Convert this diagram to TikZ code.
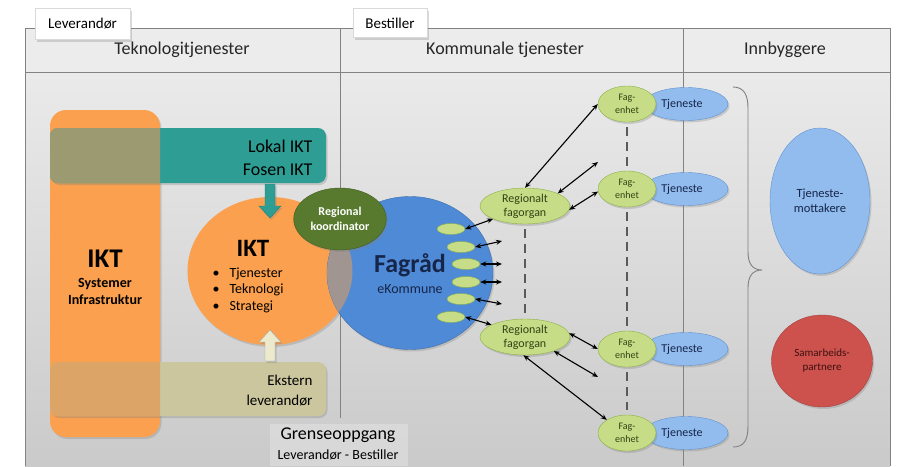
\documentclass[tikz,border=0pt]{standalone}
\usepackage{fontspec}
\setmainfont{Carlito}
\usetikzlibrary{shapes.geometric,arrows.meta,shadows}

\definecolor{headfill}{RGB}{236,236,236}
\definecolor{bgtop}{RGB}{234,234,234}
\definecolor{bgbottom}{RGB}{202,202,202}
\definecolor{framegray}{RGB}{130,130,130}
\definecolor{orangefill}{RGB}{251,160,78}
\definecolor{tealfill}{RGB}{46,158,148}
\definecolor{tealover}{RGB}{156,154,112}
\definecolor{beigefill}{RGB}{203,198,158}
\definecolor{beigeover}{RGB}{221,164,104}
\definecolor{beigearrow}{RGB}{236,233,205}
\definecolor{lensfill}{RGB}{160,149,144}
\definecolor{bluefill}{RGB}{79,138,214}
\definecolor{navytext}{RGB}{22,38,74}
\definecolor{greendark}{RGB}{88,122,46}
\definecolor{limefill}{RGB}{198,220,134}
\definecolor{limeline}{RGB}{140,176,70}
\definecolor{greentext}{RGB}{48,68,20}
\definecolor{lightblue}{RGB}{146,188,238}
\definecolor{lightblueline}{RGB}{96,146,208}
\definecolor{redfill}{RGB}{205,82,78}
\definecolor{redtext}{RGB}{60,16,16}
\definecolor{dashgray}{RGB}{90,90,90}

\begin{document}
\begin{tikzpicture}[x=1pt,y=-1pt,
    softshadow/.style={drop shadow={opacity=0.3,shadow xshift=1.5pt,shadow yshift=-2pt}},
    tab/.style={rectangle,fill=white,draw=gray!30,softshadow,inner sep=0pt,font=\fontsize{15}{17}\selectfont},
    head/.style={font=\fontsize{18}{20}\selectfont,text=black!85},
    smallov/.style={ellipse,fill=limefill,draw=limeline,minimum width=28pt,minimum height=11pt,inner sep=0pt},
    regfag/.style={ellipse,fill=limefill,draw=limeline,softshadow,minimum width=90pt,minimum height=36pt,inner sep=0pt,align=center,text=greentext,font=\fontsize{12}{14}\selectfont},
    fagenhet/.style={ellipse,fill=limefill,draw=limeline,softshadow,minimum width=58pt,minimum height=36pt,inner sep=0pt,align=center,text=greentext,font=\fontsize{10}{13}\selectfont},
    tjeneste/.style={ellipse,fill=lightblue,draw=lightblueline,softshadow,minimum width=84pt,minimum height=33pt,inner sep=0pt,text=navytext,font=\fontsize{12}{14}\selectfont},
    dblarrow/.style={<->,>={Stealth[length=6pt,width=5pt]},line width=1.1pt},
    dashline/.style={draw=dashgray,line width=1.5pt,dash pattern=on 9pt off 6pt,shorten <=5pt,shorten >=5pt}]

\useasboundingbox (0,0) rectangle (897,466);

% frame and columns
	\fill[headfill] (25,28) rectangle (890,72);
	\shade[top color=bgtop,bottom color=bgbottom] (25,72) rectangle (890,466);
	\draw[framegray] (25,466) -- (25,28) -- (890,28) -- (890,466);
	\draw[framegray] (25,72) -- (890,72);
	\draw[framegray] (340,28) -- (340,418);
	\draw[framegray] (683,28) -- (683,466);
	\fill[white,opacity=0.25] (270,424) rectangle (408,466);

	\node[tab,minimum width=95pt,minimum height=31pt] (levtab) at (82.5,24) {Leverandør};
	\node[tab,minimum width=74pt,minimum height=29pt] (bestab) at (390,23) {Bestiller};

	\node[head] (tekhead) at (182,50) {Teknologitjenester};
	\node[head] (komhead) at (505,50) {Kommunale tjenester};
	\node[head] (innhead) at (785,50) {Innbyggere};

% leverandor side
	\fill[orangefill,rounded corners=16pt,softshadow] (50,110) rectangle (160,437);
	\fill[tealfill,rounded corners=8pt,softshadow] (50,128) rectangle (326,183);
	\fill[beigefill,rounded corners=8pt,softshadow] (50,362) rectangle (326,416);
	\begin{scope}
		\clip[rounded corners=16pt] (50,110) rectangle (160,437);
		\fill[tealover,rounded corners=8pt] (50,128) rectangle (326,183);
		\fill[beigeover,rounded corners=8pt] (50,362) rectangle (326,416);
	\end{scope}

	\node[font=\bfseries\fontsize{27}{29}\selectfont] (iktbig) at (105,259) {IKT};
	\node[font=\bfseries\fontsize{14}{17}\selectfont,align=center] (systinfra) at (105,291) {Systemer\\Infrastruktur};
	\node[anchor=east,align=right,font=\fontsize{18}{23}\selectfont] (lokalikt) at (316,158) {Lokal IKT\\Fosen IKT};
	\node[anchor=east,align=right,font=\fontsize{15}{20}\selectfont] (ekstern) at (316,391) {Ekstern\\leverandør};

% circles
	\node[ellipse,fill=orangefill,minimum width=165pt,minimum height=148pt,softshadow] (iktcirc) at (270,271) {};
	\node[ellipse,fill=bluefill,draw=bluefill!80!black,minimum width=166pt,minimum height=153pt,softshadow] (fagrad) at (410,273) {};
	\begin{scope}
		\clip (270,271) ellipse [x radius=82.5,y radius=74];
		\fill[lensfill] (410,273) ellipse [x radius=83,y radius=76.5];
	\end{scope}

	\fill[tealfill,draw=tealfill!80!black,softshadow] (265,184) -- (275,184) -- (275,206) -- (281,206) -- (270,218) -- (259,206) -- (265,206) -- cycle;
	\fill[beigearrow,draw=gray!70,softshadow] (265,361) -- (275,361) -- (275,342) -- (281,342) -- (270,330) -- (259,342) -- (265,342) -- cycle;

	\node[font=\bfseries\fontsize{25}{27}\selectfont] (ikttext) at (253,248) {IKT};
	\node[anchor=west,align=left,font=\fontsize{14}{16.5}\selectfont] (iktlist) at (209,290) {\textbullet\hspace{10pt}Tjenester\\\textbullet\hspace{10pt}Teknologi\\\textbullet\hspace{10pt}Strategi};

	\node[ellipse,fill=greendark,draw=greendark!75!black,minimum width=92pt,minimum height=62pt,softshadow,text=white,align=center,font=\bfseries\fontsize{12}{15}\selectfont] (koord) at (340,219) {Regional\\koordinator};

	\node[text=navytext,font=\bfseries\fontsize{26}{28}\selectfont] (fagtext) at (410,265) {Fagråd};
	\node[text=navytext,font=\fontsize{14}{16}\selectfont] (ekomm) at (410,289) {eKommune};

% fagrad outlets
	\node[smallov] (s1) at (451,229) {};
	\node[smallov] (s2) at (461,247) {};
	\node[smallov] (s3) at (466,264) {};
	\node[smallov] (s4) at (466,282) {};
	\node[smallov] (s5) at (461,299) {};
	\node[smallov] (s6) at (451,317) {};

	\node[regfag] (rf1) at (525,206) {Regionalt\\fagorgan};
	\node[regfag] (rf2) at (525,337) {Regionalt\\fagorgan};

	\node[tjeneste] (tj1) at (686,104) {\hspace{-8pt}Tjeneste};
	\node[tjeneste] (tj2) at (686,189) {\hspace{-8pt}Tjeneste};
	\node[tjeneste] (tj3) at (686,349) {\hspace{-8pt}Tjeneste};
	\node[tjeneste] (tj4) at (686,433) {\hspace{-8pt}Tjeneste};
	\node[fagenhet] (fe1) at (627,104) {Fag-\\enhet};
	\node[fagenhet] (fe2) at (627,189) {Fag-\\enhet};
	\node[fagenhet] (fe3) at (627,349) {Fag-\\enhet};
	\node[fagenhet] (fe4) at (627,433) {Fag-\\enhet};

	\coordinate (p2) at (502,241);
	\coordinate (p3) at (502,264);
	\coordinate (p4) at (502,282);
	\coordinate (p5) at (502,304);
	\coordinate (o1) at (598,162);
	\coordinate (o2) at (598,377);

	\path[dashline] (rf1.south) -- (rf2.north);
	\path[dashline] (fe1.south) -- (fe2.north);
	\path[dashline] (fe2.south) -- (fe3.north);
	\path[dashline] (fe3.south) -- (fe4.north);

	\draw[dblarrow] (s1.east) -- (rf1.202);
	\draw[dblarrow] (s2.east) -- (p2);
	\draw[dblarrow] (s3.east) -- (p3);
	\draw[dblarrow] (s4.east) -- (p4);
	\draw[dblarrow] (s5.east) -- (p5);
	\draw[dblarrow] (s6.east) -- (rf2.160);

	\draw[dblarrow] (rf1.north) -- (fe1.west);
	\draw[dblarrow] (rf1.21) -- (o1);
	\draw[dblarrow] (rf1.355) -- (fe2.185);
	\draw[dblarrow] (rf2.5) -- (fe3.west);
	\draw[dblarrow] (rf2.334) -- (o2);
	\draw[dblarrow] (rf2.265) -- (fe4.147);

% innbyggere
	\draw[gray,line width=0.9pt] (733,87) .. controls (744,87) and (748,95) .. (748,108) -- (748,252) .. controls (748,263) and (752,270) .. (762,270) .. controls (752,270) and (748,277) .. (748,288) -- (748,426) .. controls (748,440) and (744,447) .. (733,447);

	\node[ellipse,fill=lightblue,draw=lightblueline,softshadow,minimum width=100pt,minimum height=146pt,align=center,text=navytext,font=\fontsize{12.5}{15}\selectfont] (tjmott) at (820,201) {Tjeneste-\\mottakere};
	\node[ellipse,fill=redfill,draw=redfill!80!black,softshadow,minimum width=101pt,minimum height=92pt,align=center,text=redtext,font=\fontsize{11}{14}\selectfont] (samarb) at (822,361) {Samarbeids-\\partnere};

	\node[font=\fontsize{18}{20}\selectfont] (grense) at (338,435) {Grenseoppgang};
	\node[font=\fontsize{14}{16}\selectfont] (levbest) at (338,455) {Leverandør - Bestiller};

\end{tikzpicture}
\end{document}
